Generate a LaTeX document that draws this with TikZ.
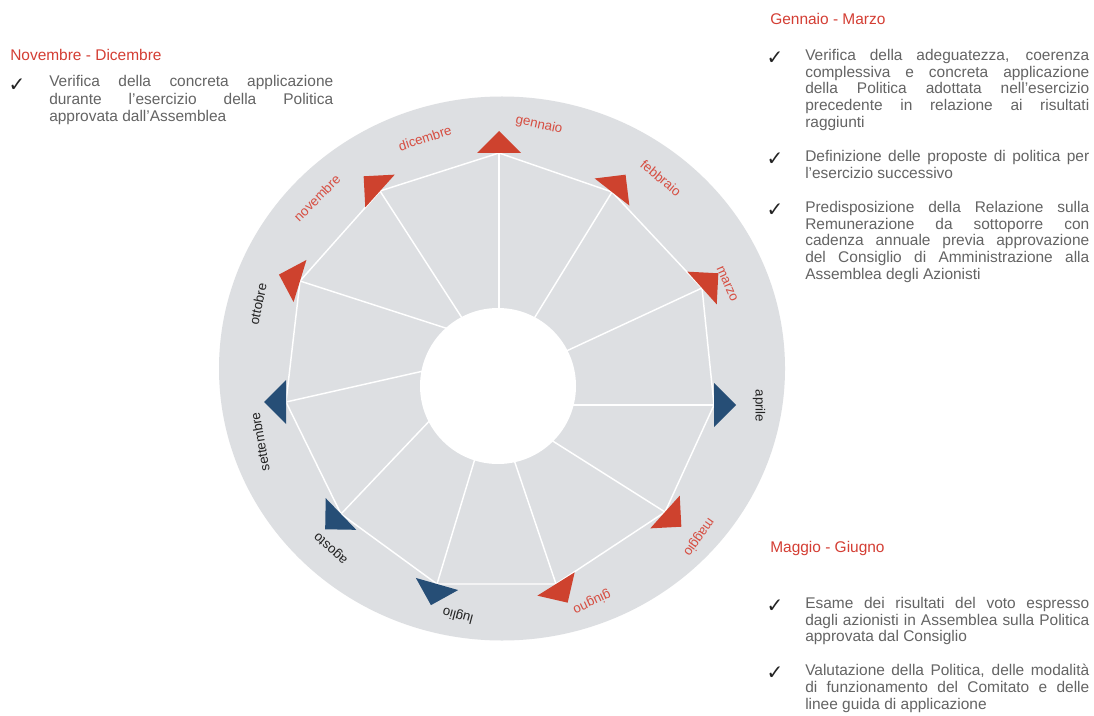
\documentclass[tikz,border=0pt]{standalone}
\usepackage{fontspec}
\setmainfont{Liberation Sans}
\newfontfamily\symfont{DejaVu Sans}
\usetikzlibrary{calc}
\definecolor{diskgray}{RGB}{221,223,226}
\definecolor{tred}{RGB}{206,66,46}
\definecolor{tblue}{RGB}{38,78,118}
\definecolor{lred}{RGB}{214,78,66}
\definecolor{ldark}{RGB}{35,35,35}
\definecolor{bodygray}{RGB}{100,100,100}
\definecolor{titlered}{RGB}{212,62,52}
\newcommand{\arrowtri}[3]{\fill[#3,shift={(#1)},rotate=#2] (22,0) -- (0,22) -- (0,-22) -- cycle;}
\newcommand{\bodytext}[1]{\parbox[t]{213pt}{\fontsize{11.6}{12.56}\selectfont\hyphenpenalty=10000\tolerance=10000 #1}}
\begin{document}
\begin{tikzpicture}[x=0.75pt,y=-0.75pt,
  spoke/.style={draw=white,line width=1.1pt},
  mred/.style={text=lred,font=\fontsize{10}{11}\selectfont,inner sep=0pt},
  mdark/.style={text=ldark,font=\fontsize{10}{11}\selectfont,inner sep=0pt},
  title/.style={text=titlered,font=\fontsize{11.6}{13}\selectfont,anchor=west,inner sep=0pt},
  body/.style={text=bodygray,anchor=base west,inner sep=0pt},
  tick/.style={font=\symfont\fontsize{15}{15}\selectfont,text=ldark,inner sep=0pt}
]
\useasboundingbox (0,0) rectangle (1094,716);
\fill[white] (0,0) rectangle (1094,716);

% disk
\fill[diskgray] (502,368.5) ellipse [x radius=212.25pt, y radius=204pt];

% polygon vertices
\coordinate (v1) at (499,153);
\coordinate (v2) at (612,192);
\coordinate (v3) at (702,288);
\coordinate (v4) at (714,405);
\coordinate (v5) at (665,512);
\coordinate (v6) at (556,584);
\coordinate (v7) at (437,584);
\coordinate (v8) at (341,514);
\coordinate (v9) at (286,402);
\coordinate (v10) at (300,281);
\coordinate (v11) at (380,191);
% inner ends of spokes
\coordinate (i1) at (499,302);
\coordinate (i2) at (543,304);
\coordinate (i3) at (575,347);
\coordinate (i4) at (566,405);
\coordinate (i5) at (540,433);
\coordinate (i6) at (508,442);
\coordinate (i7) at (480,442);
\coordinate (i8) at (436,414);
\coordinate (i9) at (419,372);
\coordinate (i10) at (430,323);
\coordinate (i11) at (453,304);

\draw[spoke] (v1) -- (v2) -- (v3) -- (v4) -- (v5) -- (v6) -- (v7) -- (v8) -- (v9) -- (v10) -- (v11) -- cycle;
\foreach \k in {1,...,11} {\draw[spoke] (v\k) -- ($(v\k)!1.2!(i\k)$);}

% inner hole
\fill[white] (498,386) circle [radius=58.5pt];

% triangles
\arrowtri{v1}{90}{tred}
\arrowtri{v2}{52}{tred}
\arrowtri{v3}{42}{tred}
\arrowtri{v4}{0}{tblue}
\arrowtri{v5}{-42}{tred}
\arrowtri{v6}{-58}{tred}
\arrowtri{v7}{-106}{tblue}
\arrowtri{v8}{-136}{tblue}
\arrowtri{v9}{180}{tblue}
\arrowtri{v10}{163}{tred}
\arrowtri{v11}{138}{tred}

% month labels
\node[mred,rotate=-12] (m1) at (539,125) {gennaio};
\node[mred,rotate=-40] (m2) at (661,178) {febbraio};
\node[mred,rotate=-66] (m3) at (727,284) {marzo};
\node[mdark,rotate=-90] (m4) at (759,406) {aprile};
\node[mred,rotate=-125] (m5) at (699,537) {maggio};
\node[mred,rotate=-155] (m6) at (592,602) {giugno};
\node[mdark,rotate=165] (m7) at (458,615) {luglio};
\node[mdark,rotate=138] (m8) at (331,548) {agosto};
\node[mdark,rotate=100] (m9) at (260,442) {settembre};
\node[mdark,rotate=78] (m10) at (258,304) {ottobre};
\node[mred,rotate=45] (m11) at (317,198) {novembre};
\node[mred,rotate=18] (m12) at (425,138) {dicembre};

% Gennaio - Marzo
\node[title] (t1) at (770,19) {Gennaio - Marzo};
\node[tick] (c1) at (775,58) {✓};
\node[body] (b1) at (805,60.5) {\bodytext{Verifica della adeguatezza, coerenza\linebreak complessiva e concreta applicazione\linebreak della Politica adottata nell'esercizio\linebreak precedente in relazione ai risultati\linebreak raggiunti}};
\node[tick] (c2) at (775,159) {✓};
\node[body] (b2) at (805,161.5) {\bodytext{Definizione delle proposte di politica per\linebreak l'esercizio successivo}};
\node[tick] (c3) at (775,210) {✓};
\node[body] (b3) at (805,212.5) {\bodytext{Predisposizione della Relazione sulla\linebreak Remunerazione da sottoporre con\linebreak cadenza annuale previa approvazione\linebreak del Consiglio di Amministrazione alla\linebreak Assemblea degli Azionisti}};

% Novembre - Dicembre
\node[title] (t2) at (10,55) {Novembre - Dicembre};
\node[tick] (c4) at (17,85) {✓};
\node[body] (b4) at (49,87) {\bodytext{\fontsize{11.6}{13.1}\selectfont Verifica della concreta applicazione\linebreak durante l'esercizio della Politica\linebreak approvata dall'Assemblea}};

% Maggio - Giugno
\node[title] (t3) at (770,548) {Maggio - Giugno};
\node[tick] (c5) at (775,606) {✓};
\node[body] (b5) at (805,608.5) {\bodytext{Esame dei risultati del voto espresso\linebreak dagli azionisti in Assemblea sulla Politica\linebreak approvata dal Consiglio}};
\node[tick] (c6) at (775,673) {✓};
\node[body] (b6) at (805,675.5) {\bodytext{Valutazione della Politica, delle modalità\linebreak di funzionamento del Comitato e delle\linebreak linee guida di applicazione}};
\end{tikzpicture}
\end{document}
